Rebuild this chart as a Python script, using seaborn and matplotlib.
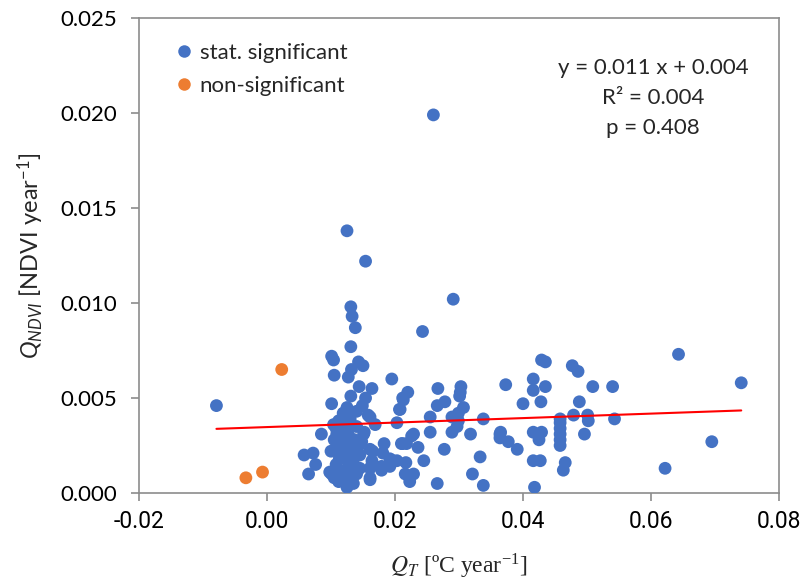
import numpy as np
import pandas as pd
import matplotlib
matplotlib.use("Agg")
import matplotlib.pyplot as plt
from matplotlib.lines import Line2D
import seaborn as sns

# ---- data ----
sig_x = [0.0260, 0.0125, 0.0154, 0.0291, 0.0131, 0.0133, 0.0138, 0.0243, 0.0131, 0.0101,
         0.0104, 0.0143, 0.0150, 0.0132, 0.0105, 0.0127, 0.0195, 0.0144, 0.0164, 0.0267,
         0.0303, 0.0220, 0.0131, 0.0301, 0.0154, 0.0212, -0.0079, 0.0101, 0.0278, 0.0149,
         0.0266, 0.0307, 0.0207, 0.0125, 0.0120, 0.0255, 0.0289, 0.0338, 0.0158, 0.0299,
         0.0203, 0.0169, 0.0104, 0.0085, 0.0152, 0.0255, 0.0289, 0.0318, 0.0364, 0.0229,
         0.0212, 0.0183, 0.0236, 0.0277, 0.0058, 0.0072, 0.0165, 0.0181, 0.0164, 0.0197,
         0.0245, 0.0333, 0.0217, 0.0076, 0.0164, 0.0192, 0.0179, 0.0065, 0.0216, 0.0229,
         0.0321, 0.0161, 0.0223, 0.0266, 0.0338, 0.0101, 0.0125,
         0.0429, 0.0435, 0.0477, 0.0486, 0.0643, 0.0741, 0.0416, 0.0373, 0.0435, 0.0509,
         0.0540, 0.0416, 0.0428, 0.0488, 0.0400, 0.0458, 0.0479, 0.0501, 0.0502, 0.0543,
         0.0458, 0.0458, 0.0458, 0.0458, 0.0458, 0.0496, 0.0416, 0.0429, 0.0425, 0.0365,
         0.0364, 0.0377, 0.0391, 0.0695, 0.0622, 0.0466, 0.0463, 0.0416, 0.0427, 0.0418,
         0.0302, 0.0299, 0.0297, 0.0226, 0.0218, 0.0210, 0.0213, 0.0208,
         0.0119, 0.0161, 0.0109, 0.0151, 0.0098, 0.0161, 0.0192, 0.0161, 0.0179, 0.0203,
         0.0161, 0.0125,
         0.0105, 0.0110, 0.0115, 0.0118, 0.0120, 0.0122, 0.0125, 0.0128, 0.0130, 0.0132,
         0.0135, 0.0138, 0.0127, 0.0123, 0.0120, 0.0128, 0.0133, 0.0140, 0.0113, 0.0108,
         0.0105, 0.0112, 0.0117, 0.0130, 0.0140, 0.0137, 0.0142, 0.0145, 0.0140, 0.0112,
         0.0108, 0.0125, 0.0135, 0.0145, 0.0148, 0.0100, 0.0115]
sig_y = [0.0199, 0.0138, 0.0122, 0.0102, 0.0098, 0.0093, 0.0087, 0.0085, 0.0077, 0.0072,
         0.0070, 0.0069, 0.0067, 0.0065, 0.0062, 0.0061, 0.0060, 0.0056, 0.0055, 0.0055,
         0.0056, 0.0053, 0.0051, 0.0051, 0.0050, 0.0050, 0.0046, 0.0047, 0.0048, 0.0046,
         0.0046, 0.0045, 0.0044, 0.0045, 0.0042, 0.0040, 0.0040, 0.0039, 0.0041, 0.0038,
         0.0037, 0.0036, 0.0036, 0.0031, 0.0032, 0.0032, 0.0032, 0.0031, 0.0031, 0.0031,
         0.0026, 0.0026, 0.0024, 0.0023, 0.0020, 0.0021, 0.0022, 0.0021, 0.0017, 0.0017,
         0.0017, 0.0019, 0.0016, 0.0015, 0.0015, 0.0014, 0.0012, 0.0010, 0.0010, 0.0010,
         0.0010, 0.0007, 0.0006, 0.0005, 0.0004, 0.0010, 0.0005,
         0.0070, 0.0069, 0.0067, 0.0064, 0.0073, 0.0058, 0.0060, 0.0057, 0.0056, 0.0056,
         0.0056, 0.0054, 0.0048, 0.0048, 0.0047, 0.0039, 0.0041, 0.0041, 0.0038, 0.0039,
         0.0037, 0.0034, 0.0031, 0.0028, 0.0025, 0.0031, 0.0032, 0.0032, 0.0028, 0.0032,
         0.0029, 0.0027, 0.0023, 0.0027, 0.0013, 0.0016, 0.0012, 0.0017, 0.0017, 0.0003,
         0.0053, 0.0042, 0.0035, 0.0030, 0.0026, 0.0026, 0.0049, 0.0044,
         0.0042, 0.0040, 0.0031, 0.0031, 0.0011, 0.0023, 0.0018, 0.0013, 0.0014, 0.0017,
         0.0008, 0.0003,
         0.0028, 0.0025, 0.0033, 0.0029, 0.0024, 0.0020, 0.0035, 0.0030, 0.0026, 0.0022,
         0.0018, 0.0014, 0.0016, 0.0012, 0.0009, 0.0008, 0.0011, 0.0010, 0.0018, 0.0015,
         0.0008, 0.0006, 0.0011, 0.0039, 0.0035, 0.0028, 0.0024, 0.0020, 0.0043, 0.0038,
         0.0034, 0.0041, 0.0005, 0.0013, 0.0027, 0.0022, 0.0021]
nonsig_x = [0.0023, -0.0007, -0.0033]
nonsig_y = [0.0065, 0.0011, 0.0008]

fit_x = [-0.0079, 0.0741]
fit_slope = 0.0118
fit_intercept = 0.00347

x_ticks = [-0.02, 0.00, 0.02, 0.04, 0.06, 0.08]
y_ticks = [0.000, 0.005, 0.010, 0.015, 0.020, 0.025]
groups = ["stat. significant", "non-significant"]
colors = ["#4472C4", "#ED7D31"]
annot = ["y = 0.011 x + 0.004", "R\u00b2 = 0.004", "p = 0.408"]

df = pd.DataFrame({
    "x": sig_x + nonsig_x,
    "y": sig_y + nonsig_y,
    "g": [groups[0]] * len(sig_x) + [groups[1]] * len(nonsig_x),
})
fit_df = pd.DataFrame({"x": fit_x,
                       "y": [fit_slope * v + fit_intercept for v in fit_x]})

sns.set_theme(style="white")
plt.rcParams["font.family"] = ["Lato", "DejaVu Sans"]
plt.rcParams["mathtext.fontset"] = "custom"
plt.rcParams["mathtext.rm"] = "Lato"
plt.rcParams["mathtext.it"] = "Lato:italic"

fig = plt.figure(figsize=(8.05, 5.81), dpi=100)
ax = fig.add_axes([139 / 805, 1 - 493 / 581, 640 / 805, 475 / 581])

sns.scatterplot(data=df, x="x", y="y", hue="g", palette=dict(zip(groups, colors)),
                s=85, linewidth=0, ax=ax, legend=False, zorder=3)
sns.lineplot(data=fit_df, x="x", y="y", color="#FF0000", linewidth=1.5, ax=ax, zorder=4)

ax.set_xlim(-0.02, 0.08)
ax.set_ylim(0.0, 0.025)
ax.set_xticks(x_ticks)
ax.set_yticks(y_ticks)
ax.set_xticklabels([f"{v:.2f}" for v in x_ticks], fontfamily=["Roboto"], fontsize=16.5,
                   fontstretch="condensed")
ax.set_yticklabels([f"{v:.3f}" for v in y_ticks], fontsize=16)
for s in ax.spines.values():
    s.set_color("#8C8C8C")
    s.set_linewidth(1.2)
ax.tick_params(axis="both", which="major", direction="out", length=6, width=1.2,
               color="#8C8C8C", labelcolor="black", bottom=True, left=True)
ax.tick_params(axis="x", pad=6)
ax.tick_params(axis="y", pad=10)

ax.set_xlabel(r"$Q_T$ [ºC year$^{\mathregular{-1}}$]", fontsize=17,
              fontfamily="Liberation Serif", math_fontfamily="stix", labelpad=14)
ax.set_ylabel(r"$Q_{NDVI}$ [NDVI year$^{\mathregular{-1}}$]", fontsize=17,
              math_fontfamily="custom", labelpad=10)

handles = [Line2D([0], [0], marker="o", linestyle="", markersize=9,
                  markerfacecolor=c, markeredgewidth=0) for c in colors]
ax.legend(handles, groups, loc="upper left", bbox_to_anchor=(0.022, 0.99),
          frameon=False, fontsize=16, handletextpad=0.2, labelspacing=0.6,
          handlelength=1.0)

for i, t in enumerate(annot):
    ax.text(0.803, 0.894 - i * 0.063, t, transform=ax.transAxes, ha="center",
            va="center", fontsize=16)

fig.savefig("out.png", dpi=100)
